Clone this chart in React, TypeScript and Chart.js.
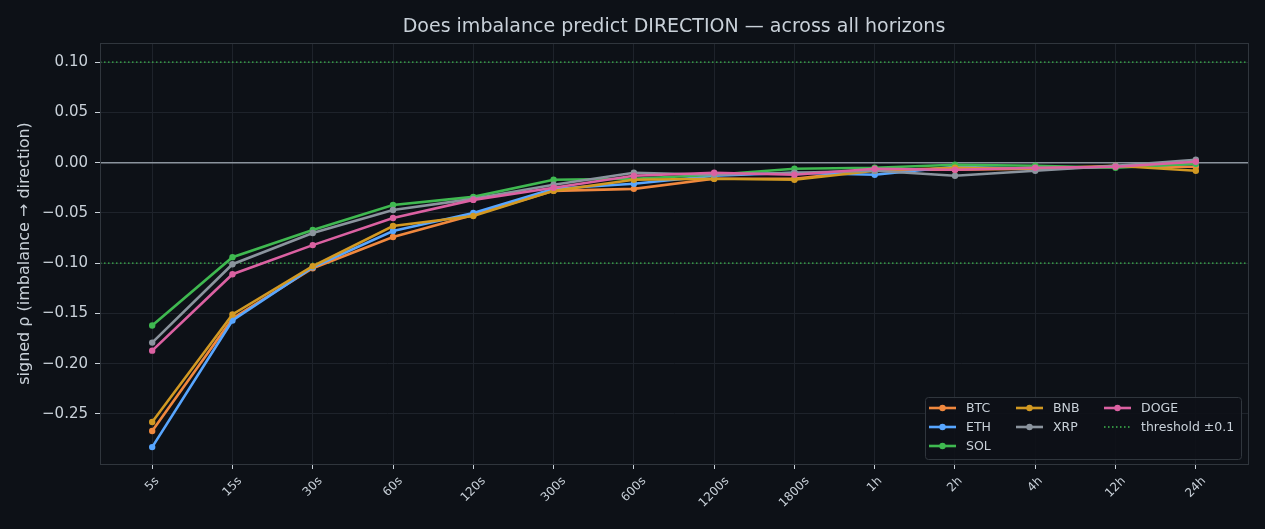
import React, { useEffect, useRef } from "react";
import { Chart, registerables } from "chart.js";

Chart.register(...registerables);

const HORIZONS = ["5s", "15s", "30s", "60s", "120s", "300s", "600s", "1200s", "1800s", "1h", "2h", "4h", "12h", "24h"];

const BTC = [-0.267, -0.155, -0.105, -0.074, -0.052, -0.028, -0.026, -0.016, -0.016, -0.007, -0.007, -0.006, -0.004, -0.004];
const ETH = [-0.283, -0.157, -0.104, -0.068, -0.050, -0.026, -0.021, -0.013, -0.010, -0.012, -0.004, -0.006, -0.004, -0.001];
const SOL = [-0.162, -0.094, -0.067, -0.042, -0.034, -0.017, -0.016, -0.012, -0.006, -0.005, -0.002, -0.003, -0.005, -0.001];
const BNB = [-0.258, -0.151, -0.103, -0.063, -0.053, -0.028, -0.017, -0.016, -0.017, -0.008, -0.005, -0.006, -0.003, -0.008];
const XRP = [-0.179, -0.101, -0.070, -0.047, -0.036, -0.022, -0.010, -0.012, -0.010, -0.008, -0.013, -0.008, -0.003, 0.003];
const DOGE = [-0.187, -0.111, -0.082, -0.055, -0.037, -0.025, -0.013, -0.010, -0.012, -0.006, -0.007, -0.005, -0.004, 0.001];

const SERIES_NAMES = ["BTC", "ETH", "SOL", "BNB", "XRP", "DOGE"];
const SERIES_VALUES = [BTC, ETH, SOL, BNB, XRP, DOGE];
const SERIES_COLORS = ["#f0883e", "#58a6ff", "#3fb950", "#d29922", "#8b949e", "#db61a2"];

const THRESHOLD = 0.1;
const THRESHOLD_LABEL = "threshold \u00b10.1";
const Y_TICKS = [-0.25, -0.2, -0.15, -0.1, -0.05, 0, 0.05, 0.1];
const Y_MIN = -0.2998;
const Y_MAX = 0.1191;
const X_MIN = -0.65;
const X_MAX = 13.65;

const TITLE = "Does imbalance predict DIRECTION \u2014 across all horizons";
const Y_TITLE = "signed \u03c1 (imbalance \u2192 direction)";

const BG = "#0d1117";
const TEXT = "#c9d1d9";
const GRID = "#1e232b";
const SPINE = "#30363d";
const FONT = "'DejaVu Sans', sans-serif";

const fmt = (v: number) => {
  const s = Math.abs(v).toFixed(2);
  return v < -1e-9 ? "\u2212" + s : s;
};

const bgPlugin = {
  id: "bgPlugin",
  beforeDraw(chart: any) {
    const { ctx, width, height } = chart;
    ctx.save();
    ctx.fillStyle = BG;
    ctx.fillRect(0, 0, width, height);
    ctx.restore();
  },
};

const titlePlugin = {
  id: "axesTitle",
  afterDraw(chart: any) {
    const { ctx, chartArea } = chart;
    ctx.save();
    ctx.font = `19px ${FONT}`;
    ctx.fillStyle = TEXT;
    ctx.textAlign = "center";
    ctx.textBaseline = "middle";
    ctx.fillText(TITLE, (chartArea.left + chartArea.right) / 2, 27);
    ctx.restore();
  },
};

const refLinesPlugin = {
  id: "refLines",
  beforeDatasetsDraw(chart: any) {
    const { ctx, chartArea } = chart;
    const y = chart.scales.y;
    ctx.save();
    ctx.beginPath();
    ctx.rect(chartArea.left, chartArea.top, chartArea.right - chartArea.left, chartArea.bottom - chartArea.top);
    ctx.clip();
    ctx.strokeStyle = "#8b949e";
    ctx.lineWidth = 1.5;
    const y0 = y.getPixelForValue(0);
    ctx.beginPath();
    ctx.moveTo(chartArea.left, y0);
    ctx.lineTo(chartArea.right, y0);
    ctx.stroke();
    ctx.strokeStyle = "#3fb950";
    ctx.lineWidth = 1.3;
    ctx.setLineDash([1.5, 2.5]);
    for (const t of [THRESHOLD, -THRESHOLD]) {
      const yy = y.getPixelForValue(t);
      ctx.beginPath();
      ctx.moveTo(chartArea.left, yy);
      ctx.lineTo(chartArea.right, yy);
      ctx.stroke();
    }
    ctx.restore();
  },
};

const xLabelsPlugin = {
  id: "xLabels",
  afterDraw(chart: any) {
    const { ctx, chartArea } = chart;
    const x = chart.scales.x;
    ctx.save();
    const fs = 12;
    ctx.font = `${fs}px ${FONT}`;
    ctx.fillStyle = TEXT;
    ctx.textAlign = "center";
    ctx.textBaseline = "middle";
    const top = chartArea.bottom + 11;
    HORIZONS.forEach((lab, i) => {
      const px = x.getPixelForValue(i);
      const w = ctx.measureText(lab).width;
      const bh = (w + fs) * Math.SQRT1_2;
      ctx.save();
      ctx.translate(px, top + bh / 2);
      ctx.rotate(-Math.PI / 4);
      ctx.fillText(lab, 0, 0);
      ctx.restore();
    });
    ctx.restore();
  },
};

const framePlugin = {
  id: "frame",
  afterDatasetsDraw(chart: any) {
    const { ctx, chartArea } = chart;
    ctx.save();
    ctx.strokeStyle = SPINE;
    ctx.lineWidth = 1;
    ctx.strokeRect(chartArea.left + 0.5, chartArea.top + 0.5, chartArea.right - chartArea.left, chartArea.bottom - chartArea.top);
    ctx.restore();
  },
};

const legendPlugin = {
  id: "customLegend",
  afterDraw(chart: any) {
    const { ctx, chartArea } = chart;
    const items = [
      ...SERIES_NAMES.map((n, i) => ({ label: n, color: SERIES_COLORS[i], dotted: false })),
      { label: THRESHOLD_LABEL, color: "#3fb950", dotted: true },
    ];
    const slots = [[0, 0], [0, 1], [0, 2], [1, 0], [1, 1], [2, 0], [2, 1]];
    const boxW = 316;
    const boxH = 62;
    const right = chartArea.right - 7;
    const bottom = chartArea.bottom - 5;
    const left = right - boxW;
    const top = bottom - boxH;
    ctx.save();
    ctx.fillStyle = "rgba(13,17,23,0.9)";
    ctx.strokeStyle = SPINE;
    ctx.lineWidth = 1;
    ctx.beginPath();
    (ctx as any).roundRect(left + 0.5, top + 0.5, boxW, boxH, 3);
    ctx.fill();
    ctx.stroke();
    const colX = [left + 4, left + 91, left + 179];
    const rowY = [top + 11, top + 30, top + 49];
    ctx.font = `12.5px ${FONT}`;
    ctx.textAlign = "left";
    ctx.textBaseline = "middle";
    items.forEach((it, k) => {
      const [c, r] = slots[k];
      const x0 = colX[c];
      const y0 = rowY[r];
      ctx.strokeStyle = it.color;
      if (it.dotted) {
        ctx.lineWidth = 1.3;
        ctx.setLineDash([1.5, 2.5]);
      } else {
        ctx.lineWidth = 2.6;
        ctx.setLineDash([]);
      }
      ctx.beginPath();
      ctx.moveTo(x0, y0);
      ctx.lineTo(x0 + 27, y0);
      ctx.stroke();
      ctx.setLineDash([]);
      if (!it.dotted) {
        ctx.fillStyle = it.color;
        ctx.beginPath();
        ctx.arc(x0 + 13.5, y0, 3.2, 0, Math.PI * 2);
        ctx.fill();
      }
      ctx.fillStyle = TEXT;
      ctx.fillText(it.label, x0 + 37, y0 + 0.5);
    });
    ctx.restore();
  },
};

export default function App() {
  const ref = useRef<HTMLCanvasElement | null>(null);
  useEffect(() => {
    document.body.style.margin = "0";
    document.body.style.background = BG;
    const canvas = ref.current;
    if (!canvas) return;
    const datasets = SERIES_NAMES.map((name, i) => ({
      label: name,
      data: SERIES_VALUES[i].map((v, j) => ({ x: j, y: v })),
      borderColor: SERIES_COLORS[i],
      backgroundColor: SERIES_COLORS[i],
      borderWidth: 2.6,
      pointRadius: 3.2,
      pointBorderWidth: 0,
      pointBackgroundColor: SERIES_COLORS[i],
      fill: false,
      tension: 0,
      order: SERIES_NAMES.length - i,
    }));
    const chart = new Chart(canvas, {
      type: "line",
      data: { datasets },
      options: {
        responsive: false,
        animation: false,
        maintainAspectRatio: false,
        devicePixelRatio: 1,
        layout: { padding: { left: 0, right: 17, top: 43, bottom: 0 } },
        plugins: {
          legend: { display: false },
          tooltip: { enabled: false },
          title: { display: false },
        },
        scales: {
          x: {
            type: "linear",
            min: X_MIN,
            max: X_MAX,
            afterBuildTicks: (scale: any) => {
              scale.ticks = HORIZONS.map((_, i) => ({ value: i }));
            },
            afterFit: (scale: any) => {
              scale.height = 65;
            },
            ticks: { display: false },
            grid: { color: GRID, lineWidth: 1, drawTicks: true, tickLength: 5, tickColor: TEXT },
            border: { display: true, color: SPINE },
          },
          y: {
            type: "linear",
            min: Y_MIN,
            max: Y_MAX,
            afterBuildTicks: (scale: any) => {
              scale.ticks = Y_TICKS.map((v) => ({ value: v }));
            },
            afterFit: (scale: any) => {
              scale.width = 100;
            },
            ticks: {
              color: TEXT,
              font: { family: FONT, size: 15 },
              padding: 7,
              callback: (v: any) => fmt(Number(v)),
            },
            grid: { color: GRID, lineWidth: 1, drawTicks: true, tickLength: 5, tickColor: TEXT },
            border: { display: true, color: SPINE },
            title: {
              display: true,
              text: Y_TITLE,
              color: TEXT,
              font: { family: FONT, size: 16 },
              padding: { top: 15.5, bottom: 0 },
            },
          },
        },
      },
      plugins: [bgPlugin, refLinesPlugin, framePlugin, xLabelsPlugin, legendPlugin, titlePlugin],
    } as any);
    return () => chart.destroy();
  }, []);
  return (
    <div style={{ width: 1265, height: 529, background: BG }}>
      <canvas ref={ref} width={1265} height={529} style={{ display: "block", width: 1265, height: 529 }} />
    </div>
  );
}
